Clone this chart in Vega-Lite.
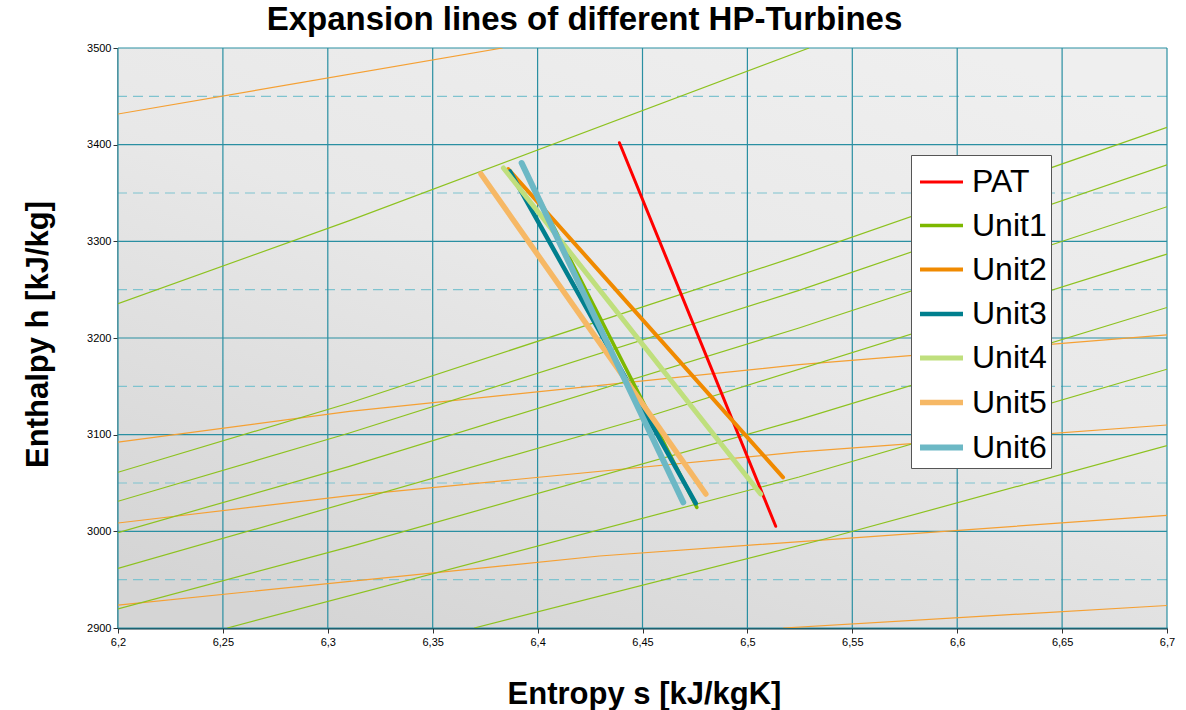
{
  "$schema": "https://vega.github.io/schema/vega-lite/v6.json",
  "width": 1049,
  "height": 580,
  "autosize": {"type": "none"},
  "padding": {"left": 118, "top": 48, "right": 19, "bottom": 82},
  "background": "white",
  "config": {"font": "Liberation Sans", "view": {"stroke": null}},
  "title": {"text": "Expansion lines of different HP-Turbines", "fontSize": 33, "fontWeight": "bold", "font": "Liberation Sans", "color": "black", "anchor": "middle", "dx": -58, "offset": 5},
  "datasets": {
    "bg": [{"s1": 6.2, "s2": 6.7, "h1": 2900, "h2": 3500}],
    "gx": [{"s": 6.2}, {"s": 6.25}, {"s": 6.3}, {"s": 6.35}, {"s": 6.4}, {"s": 6.45}, {"s": 6.5}, {"s": 6.55}, {"s": 6.6}, {"s": 6.65}, {"s": 6.7}],
    "gy": [{"h": 2900}, {"h": 3000}, {"h": 3100}, {"h": 3200}, {"h": 3300}, {"h": 3400}, {"h": 3500}],
    "gym": [{"h": 2950}, {"h": 3050}, {"h": 3150}, {"h": 3250}, {"h": 3350}, {"h": 3450}],
    "isobars": [
      {"line": "p1", "s": 6.2, "h": 3235.5}, {"line": "p1", "s": 6.3103, "h": 3321.4}, {"line": "p1", "s": 6.5294, "h": 3500},
      {"line": "p2", "s": 6.2, "h": 3061.1}, {"line": "p2", "s": 6.3103, "h": 3132.8}, {"line": "p2", "s": 6.5246, "h": 3285.2}, {"line": "p2", "s": 6.7, "h": 3417.9},
      {"line": "p3", "s": 6.2, "h": 3031.1}, {"line": "p3", "s": 6.3103, "h": 3101.7}, {"line": "p3", "s": 6.5246, "h": 3249.3}, {"line": "p3", "s": 6.7, "h": 3379.2},
      {"line": "p4", "s": 6.2, "h": 2998.7}, {"line": "p4", "s": 6.3103, "h": 3067.2}, {"line": "p4", "s": 6.5246, "h": 3210.3}, {"line": "p4", "s": 6.7, "h": 3335.8},
      {"line": "p5", "s": 6.2, "h": 2961.6}, {"line": "p5", "s": 6.45, "h": 3117}, {"line": "p5", "s": 6.7, "h": 3286.9},
      {"line": "p6", "s": 6.2, "h": 2919.8}, {"line": "p6", "s": 6.3103, "h": 2984}, {"line": "p6", "s": 6.5246, "h": 3115.5}, {"line": "p6", "s": 6.7, "h": 3231.6},
      {"line": "p7", "s": 6.2521, "h": 2900}, {"line": "p7", "s": 6.5246, "h": 3056.2}, {"line": "p7", "s": 6.7, "h": 3167.7},
      {"line": "p8", "s": 6.3698, "h": 2900}, {"line": "p8", "s": 6.535, "h": 2991}, {"line": "p8", "s": 6.7, "h": 3088.7}
    ],
    "isotherms": [
      {"line": "t1", "s": 6.2, "h": 3431.7}, {"line": "t1", "s": 6.3833, "h": 3500},
      {"line": "t2", "s": 6.2, "h": 3092.3}, {"line": "t2", "s": 6.3103, "h": 3124.1}, {"line": "t2", "s": 6.5246, "h": 3172.4}, {"line": "t2", "s": 6.7, "h": 3203.2},
      {"line": "t3", "s": 6.2, "h": 3008.6}, {"line": "t3", "s": 6.3103, "h": 3036.9}, {"line": "t3", "s": 6.5246, "h": 3082.1}, {"line": "t3", "s": 6.7, "h": 3110},
      {"line": "t4", "s": 6.2, "h": 2923.7}, {"line": "t4", "s": 6.4295, "h": 2974.5}, {"line": "t4", "s": 6.7, "h": 3016.5},
      {"line": "t5", "s": 6.517, "h": 2900}, {"line": "t5", "s": 6.7, "h": 2923.3}
    ],
    "expansion": [
      {"series": "PAT", "s": 6.439, "h": 3402}, {"series": "PAT", "s": 6.5135, "h": 3005.2},
      {"series": "Unit1", "s": 6.3933, "h": 3375.9}, {"series": "Unit1", "s": 6.4759, "h": 3024.8},
      {"series": "Unit2", "s": 6.386, "h": 3374.8}, {"series": "Unit2", "s": 6.517, "h": 3055.9},
      {"series": "Unit3", "s": 6.3868, "h": 3372.4}, {"series": "Unit3", "s": 6.4754, "h": 3029},
      {"series": "Unit4", "s": 6.3837, "h": 3375.9}, {"series": "Unit4", "s": 6.5063, "h": 3038.6},
      {"series": "Unit5", "s": 6.373, "h": 3369.7}, {"series": "Unit5", "s": 6.4802, "h": 3038.6},
      {"series": "Unit6", "s": 6.3924, "h": 3381}, {"series": "Unit6", "s": 6.4694, "h": 3030}
    ]
  },
  "layer": [
    {
      "data": {"name": "bg"},
      "mark": {"type": "rect", "fill": {"gradient": "linear", "x1": 0.8, "y1": 0, "x2": 0.2, "y2": 1, "stops": [{"offset": 0, "color": "#efefef"}, {"offset": 0.45, "color": "#e8e8e8"}, {"offset": 1, "color": "#d5d5d5"}]}},
      "encoding": {
        "x": {"field": "s1", "type": "quantitative", "scale": {"domain": [6.2, 6.7], "nice": false, "zero": false},
          "axis": {"title": "Entropy s [kJ/kgK]", "values": [6.2, 6.25, 6.3, 6.35, 6.4, 6.45, 6.5, 6.55, 6.6, 6.65, 6.7], "labelExpr": "replace(toString(datum.value), '.', ',')", "labelFlush": false, "grid": false, "domainColor": "#0f3440", "domainWidth": 2, "tickColor": "#333333", "tickSize": 5, "labelFontSize": 11, "labelColor": "black", "labelPadding": 3, "labelFont": "Liberation Sans", "titleFontSize": 31, "titleFontWeight": "bold", "titleColor": "black", "titleFont": "Liberation Sans", "titleX": 526, "titleY": 66, "titleAlign": "center", "titleBaseline": "middle"}},
        "x2": {"field": "s2"},
        "y": {"field": "h1", "type": "quantitative", "scale": {"domain": [2900, 3500], "nice": false, "zero": false},
          "axis": {"title": "Enthalpy h [kJ/kg]", "values": [2900, 3000, 3100, 3200, 3300, 3400, 3500], "format": "d", "labelFlush": false, "grid": false, "domainColor": "#0f3440", "domainWidth": 2, "tickColor": "#333333", "tickSize": 5, "labelFontSize": 11, "labelColor": "black", "labelPadding": 2, "labelFont": "Liberation Sans", "titleFontSize": 31, "titleFontWeight": "bold", "titleColor": "black", "titleFont": "Liberation Sans", "titleX": -80, "titleY": 286, "titleAlign": "center", "titleBaseline": "middle", "titleAngle": 270}},
        "y2": {"field": "h2"}
      }
    },
    {
      "data": {"name": "gym"},
      "mark": {"type": "rule", "color": "#7fc3cf", "strokeWidth": 1.2, "strokeDash": [10, 6]},
      "encoding": {"y": {"field": "h", "type": "quantitative"}}
    },
    {
      "data": {"name": "gx"},
      "mark": {"type": "rule", "color": "#2a8fa2", "strokeWidth": 1.2},
      "encoding": {"x": {"field": "s", "type": "quantitative"}}
    },
    {
      "data": {"name": "gy"},
      "mark": {"type": "rule", "color": "#2a8fa2", "strokeWidth": 1.2},
      "encoding": {"y": {"field": "h", "type": "quantitative"}}
    },
    {
      "data": {"name": "isotherms"},
      "mark": {"type": "line", "color": "#f5a033", "strokeWidth": 1.2, "clip": true},
      "encoding": {
        "x": {"field": "s", "type": "quantitative"},
        "y": {"field": "h", "type": "quantitative"},
        "detail": {"field": "line"}
      }
    },
    {
      "data": {"name": "isobars"},
      "mark": {"type": "line", "color": "#8dc21f", "strokeWidth": 1.2, "clip": true},
      "encoding": {
        "x": {"field": "s", "type": "quantitative"},
        "y": {"field": "h", "type": "quantitative"},
        "detail": {"field": "line"}
      }
    },
    {
      "data": {"name": "expansion"},
      "mark": {"type": "line", "strokeCap": "round"},
      "encoding": {
        "x": {"field": "s", "type": "quantitative"},
        "y": {"field": "h", "type": "quantitative"},
        "color": {"field": "series", "type": "nominal",
          "scale": {"domain": ["PAT", "Unit1", "Unit2", "Unit3", "Unit4", "Unit5", "Unit6"], "range": ["#ff0000", "#7db800", "#f08a00", "#007f8e", "#bfdf7d", "#f6b865", "#6cb8c5"]},
          "legend": {"title": null, "orient": "none", "legendX": 793, "legendY": 107, "symbolType": "stroke", "symbolSize": 1849, "labelFontSize": 32, "labelFont": "Liberation Sans", "labelColor": "black", "labelOffset": 6, "symbolOffset": 2, "padding": 4, "rowPadding": 4, "fillColor": "white", "strokeColor": "#555555", "labelLimit": 300}},
        "strokeWidth": {"field": "series", "type": "nominal",
          "scale": {"domain": ["PAT", "Unit1", "Unit2", "Unit3", "Unit4", "Unit5", "Unit6"], "range": [3, 6, 6, 6, 6, 6, 6]},
          "legend": {"title": null, "orient": "none", "legendX": 793, "legendY": 107, "symbolType": "stroke", "symbolSize": 1849, "labelFontSize": 32, "labelFont": "Liberation Sans", "labelColor": "black", "labelOffset": 6, "symbolOffset": 2, "padding": 4, "rowPadding": 4, "fillColor": "white", "strokeColor": "#555555", "labelLimit": 300}}
      }
    }
  ]
}
